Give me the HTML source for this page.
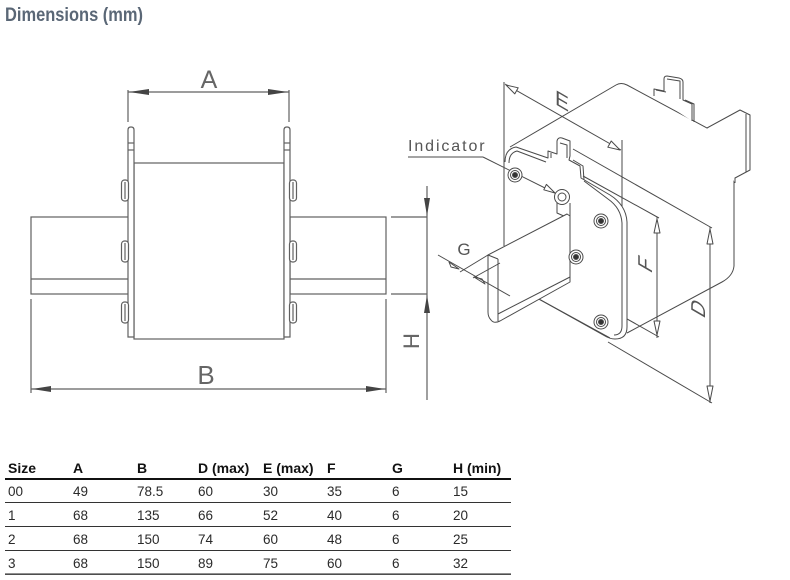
<!DOCTYPE html>
<html>
<head>
<meta charset="utf-8">
<style>
  html,body{margin:0;padding:0;background:#fff;}
  body{width:790px;height:580px;overflow:hidden;}
  svg{display:block;}
</style>
</head>
<body>
<svg width="790" height="580" viewBox="0 0 790 580" xmlns="http://www.w3.org/2000/svg">
  <rect x="0" y="0" width="790" height="580" fill="#fff"/>

  <!-- Title -->
  <text x="5" y="21" font-family="Liberation Sans, Arial, sans-serif" font-weight="bold" font-size="19" fill="#5a6776" textLength="138" lengthAdjust="spacingAndGlyphs">Dimensions (mm)</text>

  <!-- ================= LEFT DRAWING ================= -->
  <g stroke="#606060" stroke-width="1.2" fill="none">
    <!-- A dimension -->
    <line x1="128" y1="90" x2="128" y2="122"/>
    <line x1="289" y1="90" x2="289" y2="122"/>
    <line x1="128" y1="92" x2="289" y2="92"/>
    <!-- rails -->
    <rect x="31" y="217" width="98" height="77" fill="#fff"/>
    <line x1="31" y1="279" x2="129" y2="279"/>
    <rect x="290" y="217" width="96" height="77" fill="#fff"/>
    <line x1="290" y1="279" x2="386" y2="279"/>
    <!-- body -->
    <rect x="134" y="163" width="150" height="176" fill="#fff"/>
    <!-- blades -->
    <path d="M128,337 V130 Q128,127 131,127 Q134,127 134,130 V337 Z" fill="#fff"/>
    <path d="M284,337 V130 Q284,127 287,127 Q290,127 290,130 V337 Z" fill="#fff"/>
    <line x1="128" y1="143" x2="134" y2="143"/>
    <line x1="128" y1="150" x2="134" y2="150"/>
    <line x1="284" y1="143" x2="290" y2="143"/>
    <line x1="284" y1="150" x2="290" y2="150"/>
    <!-- bolts left -->
    <rect x="121.5" y="180" width="7" height="21" rx="3" fill="#fff"/>
    <line x1="125" y1="182" x2="125" y2="199"/>
    <rect x="121.5" y="241" width="7" height="21" rx="3" fill="#fff"/>
    <line x1="125" y1="243" x2="125" y2="260"/>
    <rect x="121.5" y="302" width="7" height="21" rx="3" fill="#fff"/>
    <line x1="125" y1="304" x2="125" y2="321"/>
    <!-- bolts right -->
    <rect x="289.5" y="180" width="7" height="21" rx="3" fill="#fff"/>
    <line x1="293" y1="182" x2="293" y2="199"/>
    <rect x="289.5" y="241" width="7" height="21" rx="3" fill="#fff"/>
    <line x1="293" y1="243" x2="293" y2="260"/>
    <rect x="289.5" y="302" width="7" height="21" rx="3" fill="#fff"/>
    <line x1="293" y1="304" x2="293" y2="321"/>
    <!-- B dimension -->
    <line x1="31" y1="299" x2="31" y2="393"/>
    <line x1="386" y1="299" x2="386" y2="393"/>
    <line x1="31" y1="389" x2="386" y2="389"/>
    <!-- H dimension -->
    <line x1="427" y1="186" x2="427" y2="400"/>
    <line x1="391" y1="217" x2="427" y2="217"/>
    <line x1="391" y1="294" x2="427" y2="294"/>
  </g>
  <g fill="#444" stroke="none">
    <path d="M129,92 L149,89 L149,95 Z"/>
    <path d="M288,92 L268,89 L268,95 Z"/>
    <path d="M32,389 L51,386 L51,392 Z"/>
    <path d="M385,389 L366,386 L366,392 Z"/>
    <path d="M427,216 L424,198 L430,198 Z"/>
    <path d="M427,295 L424,313 L430,313 Z"/>
  </g>
  <g font-family="Liberation Sans, Arial, sans-serif" fill="#666">
    <text x="209" y="88" font-size="25" text-anchor="middle">A</text>
    <text x="206" y="384" font-size="26" text-anchor="middle">B</text>
    <text x="0" y="0" font-size="22" text-anchor="middle" transform="translate(419,341) rotate(-90)">H</text>
  </g>

  <!-- ================= RIGHT DRAWING ================= -->
  <g stroke="#4a4a4a" stroke-width="1" fill="none" stroke-linejoin="round">
    <!-- back box -->
    <path d="M510,147 L616,85 Q621,82 627,85 L720,135 Q733,145 734,162 L734,266 Q733,276 722,282 L627,333" fill="#fff"/>
    <!-- top tab -->
    <path d="M654,96 L654,89 L664,91 L664,79 Q664,76 667,76 L679,78 Q683,79 683,82 L683,100 L692,104 L692,121" fill="#fff"/>
    <path d="M656,90 L666,92 M667,79 L680,81 L680,99 M685,100 L694,104 L694,122"/>
    <!-- side blade -->
    <path d="M707,128 L740,110 L750,115 L750,170 L735,178 L735,183" fill="#fff"/>
    <line x1="746" y1="114" x2="746" y2="172"/>

    <!-- dimension/extension lines -->
    <line x1="504" y1="82" x2="504" y2="246"/>
    <line x1="505" y1="84" x2="621" y2="150"/>
    <line x1="622" y1="140" x2="622" y2="330"/>
    <line x1="573" y1="149" x2="712" y2="228"/>
    <line x1="583" y1="176" x2="659" y2="218"/>
    <line x1="657" y1="217" x2="657" y2="338"/>
    <line x1="710" y1="227" x2="710" y2="403"/>
    <line x1="567" y1="285" x2="659" y2="337"/>
    <line x1="608" y1="342" x2="712" y2="403"/>

    <!-- front plate outer -->
    <path d="M505,162 Q505,149 516,147 L548,158 L548,151 L557,154 L557,141 Q558,137 562,138 L570,141 L570,156 L569,160 L580,166 L581,178 L610,195 Q626,205 627,222 L627,327 Q627,339 615,339 Q610,339 605,336 L537,298" fill="#fff"/>
    <!-- inner double line -->
    <path d="M509,163 Q509,153 517,151 L546,162 M584,181 L608,199 Q621,208 622,223 L622,326 Q622,335 614,335"/>
    <path d="M551,158 L551,153 M560,143 L567,145 L567,158 M573,160 L583,166 L584,180"/>
    <line x1="537" y1="298" x2="610" y2="338"/>

    <!-- indicator under-piece -->
    <path d="M557,203 L557,213 L566,217 M570,203 L570,281"/>

    <!-- bracket -->
    <path d="M488,255 L567,214 L570,216 L570,282 L500,321 Q494,324 491,320 Q488,317 488,312 Z" fill="#fff"/>
    <line x1="498" y1="259" x2="498" y2="321"/>
    <line x1="488" y1="255" x2="498" y2="259"/>
    <line x1="498" y1="314" x2="570" y2="277"/>

    <!-- G dimension -->
    <line x1="438" y1="255" x2="510" y2="296"/>
    <line x1="460" y1="272" x2="488" y2="255"/>
    <line x1="473" y1="278" x2="500" y2="263"/>
    <path d="M459,269 L449,262 L451,267 Z"/>
    <path d="M474,277 L485,284 L482,279 Z"/>

    <!-- Indicator leader -->
    <line x1="408" y1="157" x2="483" y2="157"/>
    <line x1="483" y1="157" x2="555" y2="193"/>
    <path d="M555,193 L543.8,189.8 L546.4,184.4 Z" fill="#fff"/>

    <!-- E arrows -->
    <path d="M506,85 L514.8,93.9 L518.2,87.8 Z" fill="#fff"/>
    <path d="M620,150 L607.8,147.2 L611.2,141 Z" fill="#fff"/>
    <!-- F arrows -->
    <path d="M657,219 L654,233 L660,233 Z" fill="#fff"/>
    <path d="M657,335 L654,321 L660,321 Z" fill="#fff"/>
    <!-- D arrows -->
    <path d="M710,229 L707,244 L713,244 Z" fill="#fff"/>
    <path d="M710,401 L707,386 L713,386 Z" fill="#fff"/>
  </g>

  <!-- indicator & bolts -->
  <g stroke="#4a4a4a" stroke-width="1">
    <circle cx="562" cy="197" r="7.5" fill="#fff"/>
    <circle cx="562" cy="197" r="4" fill="#fff"/>

    <circle cx="515" cy="175" r="7" fill="#fff"/>
    <circle cx="515" cy="175" r="4.5" fill="#fff"/>
    <circle cx="515" cy="175" r="2.5" fill="#333"/>

    <circle cx="601" cy="221" r="7" fill="#fff"/>
    <circle cx="601" cy="221" r="4.5" fill="#fff"/>
    <circle cx="601" cy="221" r="2.5" fill="#333"/>

    <circle cx="576" cy="257" r="7" fill="#fff"/>
    <circle cx="576" cy="257" r="4.5" fill="#fff"/>
    <circle cx="576" cy="257" r="2.5" fill="#333"/>

    <circle cx="601" cy="322" r="7" fill="#fff"/>
    <circle cx="601" cy="322" r="4.5" fill="#fff"/>
    <circle cx="601" cy="322" r="2.5" fill="#333"/>
  </g>

  <!-- right labels -->
  <g font-family="Liberation Sans, Arial, sans-serif" fill="#555">
    <text x="408" y="151" font-size="16" letter-spacing="1.9">Indicator</text>
    <text x="464" y="255" font-size="17" text-anchor="middle">G</text>
    <text x="0" y="0" font-size="21" text-anchor="middle" transform="translate(562,108) skewY(30)">E</text>
    <text x="0" y="0" font-size="20" text-anchor="middle" transform="translate(652,268) rotate(-90) skewX(-30)">F</text>
    <text x="0" y="0" font-size="20" text-anchor="middle" transform="translate(705,312) rotate(-90) skewX(-30)">D</text>
  </g>

  <!-- ================= TABLE ================= -->
  <g font-family="Liberation Sans, Arial, sans-serif" font-size="14">
    <g font-weight="bold" fill="#111">
      <text x="8" y="473">Size</text>
      <text x="73" y="473">A</text>
      <text x="137" y="473">B</text>
      <text x="198" y="473">D (max)</text>
      <text x="263" y="473">E (max)</text>
      <text x="327" y="473">F</text>
      <text x="392" y="473">G</text>
      <text x="453" y="473">H (min)</text>
    </g>
    <g fill="#2a2a2a" font-size="13.5">
      <text x="8" y="496">00</text><text x="73" y="496">49</text><text x="137" y="496">78.5</text><text x="198" y="496">60</text><text x="263" y="496">30</text><text x="327" y="496">35</text><text x="392" y="496">6</text><text x="453" y="496">15</text>
      <text x="8" y="520">1</text><text x="73" y="520">68</text><text x="137" y="520">135</text><text x="198" y="520">66</text><text x="263" y="520">52</text><text x="327" y="520">40</text><text x="392" y="520">6</text><text x="453" y="520">20</text>
      <text x="8" y="544">2</text><text x="73" y="544">68</text><text x="137" y="544">150</text><text x="198" y="544">74</text><text x="263" y="544">60</text><text x="327" y="544">48</text><text x="392" y="544">6</text><text x="453" y="544">25</text>
      <text x="8" y="568">3</text><text x="73" y="568">68</text><text x="137" y="568">150</text><text x="198" y="568">89</text><text x="263" y="568">75</text><text x="327" y="568">60</text><text x="392" y="568">6</text><text x="453" y="568">32</text>
    </g>
    <rect x="5" y="478" width="506" height="2" fill="#111"/>
    <rect x="5" y="502" width="506" height="1" fill="#333"/>
    <rect x="5" y="526" width="506" height="1" fill="#333"/>
    <rect x="5" y="550" width="506" height="1" fill="#333"/>
    <rect x="5" y="573.5" width="506" height="1.3" fill="#222"/>
  </g>
</svg>
</body>
</html>
